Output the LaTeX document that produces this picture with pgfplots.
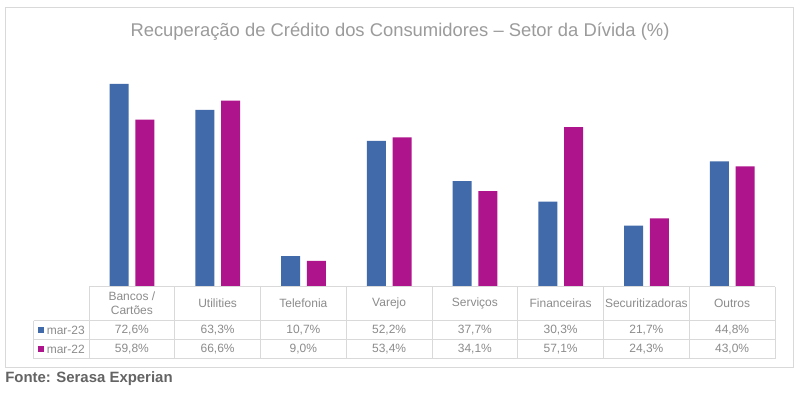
\documentclass[border=0pt]{standalone}
\usepackage{pgfplots}
\pgfplotsset{compat=1.18}
\usepackage{fontspec}
\setmainfont{Liberation Sans}
\definecolor{cblue}{RGB}{65,106,170}
\definecolor{cmag}{RGB}{174,20,140}
\definecolor{lgrid}{RGB}{217,217,217}
\definecolor{txt}{RGB}{140,140,140}
\definecolor{ttl}{RGB}{155,155,155}
\definecolor{src}{RGB}{100,100,100}
\begin{document}
\begin{tikzpicture}
\begin{scope}[x=0.75pt,y=-0.75pt]
\fill[white] (0,0) rectangle (800,393);
\draw[lgrid,line width=0.75pt] (5.5,7.5) rectangle (793,367);
\node[ttl,font=\fontsize{13.8}{16}\selectfont] at (400,31.5) {Recuperação de Crédito dos Consumidores – Setor da Dívida (\%)};
\end{scope}
\begin{axis}[
  at={(66.75pt,-214.5pt)}, anchor=south west,
  scale only axis, width=514.5pt, height=168pt,
  xmin=-0.5, xmax=7.5, ymin=0, ymax=80.5,
  axis lines=none, ybar, bar width=14.25pt,
  clip=false,
]
\addplot[fill=cblue, draw=none, bar shift=-9.5pt] coordinates {(0,72.6) (1,63.3) (2,10.7) (3,52.2) (4,37.7) (5,30.3) (6,21.7) (7,44.8)};
\addplot[fill=cmag, draw=none, bar shift=9.75pt] coordinates {(0,59.8) (1,66.6) (2,9.0) (3,53.4) (4,34.1) (5,57.1) (6,24.3) (7,43.0)};
\end{axis}
\begin{scope}[x=0.75pt,y=-0.75pt]
\draw[lgrid,line width=0.75pt] (89,286.5) -- (775,286.5);
\foreach \k in {0,...,8} {\draw[lgrid,line width=0.75pt] (89+85.75*\k,286.5) -- (89+85.75*\k,358.5);}
\foreach \yy in {320.5,339.5,358.5} {\draw[lgrid,line width=0.75pt] (33.5,\yy) -- (775,\yy);}
\draw[lgrid,line width=0.75pt] (33.5,320.5) -- (33.5,358.5);
\begin{scope}[every node/.style={txt,font=\fontsize{9}{10.5}\selectfont,align=center,inner sep=0pt}]
\foreach \n [count=\i from 0] in {{Bancos /\\Cartões},Utilities,Telefonia,Varejo,Serviços,Financeiras,Securitizadoras,Outros}
  {\node at (89+85.75*\i+42.875,303.5) {\n};}
\foreach \v/\i in {{72,6\%}/0,{63,3\%}/1,{10,7\%}/2,{52,2\%}/3,{37,7\%}/4,{30,3\%}/5,{21,7\%}/6,{44,8\%}/7}
  {\node at (89+85.75*\i+42.875,330) {\v};}
\foreach \v/\i in {{59,8\%}/0,{66,6\%}/1,{9,0\%}/2,{53,4\%}/3,{34,1\%}/4,{57,1\%}/5,{24,3\%}/6,{43,0\%}/7}
  {\node at (89+85.75*\i+42.875,349) {\v};}
\fill[cblue] (38.3,327.3) rectangle (43.7,332.7);
\fill[cmag] (38.3,346.3) rectangle (43.7,351.7);
\node[anchor=west] at (46.5,330) {mar-23};
\node[anchor=west] at (46.5,349) {mar-22};
\end{scope}
\node[src,anchor=base west,inner sep=0pt,font=\fontsize{11.2}{13}\selectfont\bfseries] at (5,382) {Fonte: Serasa Experian};
\end{scope}
\end{tikzpicture}
\end{document}
